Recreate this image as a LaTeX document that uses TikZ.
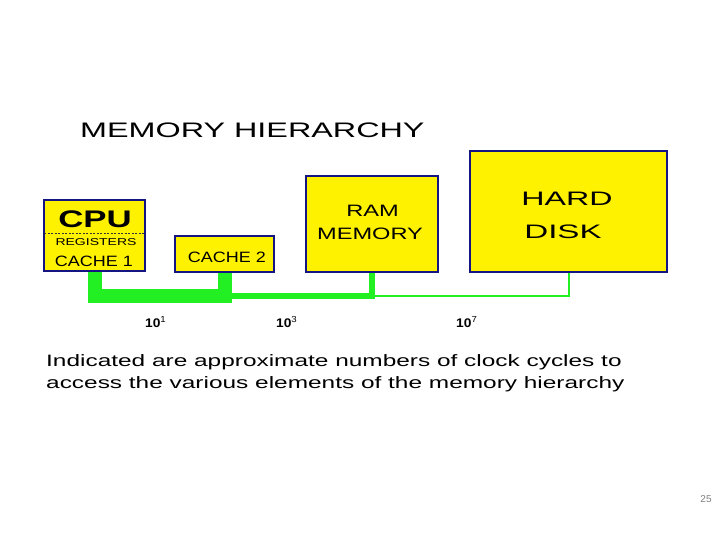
\documentclass[tikz,border=0pt]{standalone}
\usepackage{fontspec}
\setmainfont{Liberation Sans}
\setsansfont{Liberation Sans}
\usetikzlibrary{calc}

\definecolor{unitblue}{RGB}{20,20,130}
\definecolor{busgreen}{RGB}{35,240,35}
\newcommand{\widen}[2]{\scalebox{#1}[1]{#2}}

\begin{document}
\begin{tikzpicture}[
    x=1pt, y=-1pt,
    line join=miter,
    font=\sffamily,
    unit/.style={draw=unitblue, fill=yellow, line width=2pt, inner sep=0pt, outer sep=0pt},
    lbl/.style={inner sep=0pt, anchor=base}
]

  % ==================== PARAMETERS ====================
  \def\busy{296}    % height of the bus
  \def\wthick{14pt} % bus CPU - cache 2
  \def\wmid{6pt}    % bus cache 2 - RAM
  \def\wthin{2pt}   % bus RAM - disk

  \useasboundingbox (0,0) rectangle (720,540);

  % ==================== 1. TITLE ====================
  \node[lbl, anchor=base west, font=\fontsize{21}{21}\selectfont] (title) at (80,138)
    {\widen{1.54}{MEMORY HIERARCHY}};

  % ==================== 2. UNITS ====================
  \node[unit, minimum width=101pt, minimum height=71pt]  (cpu)    at (94.5,235.5) {};
  \node[unit, minimum width=99pt,  minimum height=36pt]  (cache2) at (224.5,254) {};
  \node[unit, minimum width=132pt, minimum height=96pt]  (ram)    at (372,224) {};
  \node[unit, minimum width=197pt, minimum height=121pt] (disk)   at (568.5,211.5) {};

  % CPU with registers and cache 1
  \draw[black!80, dashed, thin, dash pattern=on 2pt off 1.5pt] (cpu.west |- 0,233) -- (cpu.east |- 0,233);
  \node[lbl, font=\fontsize{24}{24}\selectfont\bfseries] (cpulbl) at (95,227) {\widen{1.45}{CPU}};
  \node[lbl, font=\fontsize{10}{10}\selectfont] (reglbl) at (96,245) {\widen{1.4}{REGISTERS}};
  \node[lbl, font=\fontsize{15}{15}\selectfont] (c1lbl) at (94,266) {\widen{1.2}{CACHE 1}};

  \node[lbl, font=\fontsize{15}{15}\selectfont] (c2lbl) at (227,262) {\widen{1.2}{CACHE 2}};

  \node[lbl, font=\fontsize{16.5}{16.5}\selectfont] (ramlbl) at (372.5,216) {\widen{1.43}{RAM}};
  \node[lbl, font=\fontsize{16.5}{16.5}\selectfont] (memlbl) at (370,240) {\widen{1.43}{MEMORY}};

  \node[lbl, font=\fontsize{19.5}{19.5}\selectfont] (hardlbl) at (567,206) {\widen{1.65}{HARD}};
  \node[lbl, font=\fontsize{19.5}{19.5}\selectfont] (disklbl) at (563,239) {\widen{1.7}{DISK}};

  % ==================== 3. BUS ====================
  \coordinate (bus) at (0,\busy);
  \draw[busgreen, line width=\wthick] ([yshift=-1pt]cpu.south) -- (cpu.south |- bus)
    -- (cache2.south |- bus) -- ([yshift=-1pt]cache2.south);
  \draw[busgreen, line width=\wmid] (cache2.south |- bus) -- (ram.south |- bus)
    -- ([yshift=-1pt]ram.south);
  \draw[busgreen, line width=\wthin] (ram.south |- bus) -| ([yshift=-1pt]disk.south);

  % Clock cycles
  \foreach \xpos/\ex [count=\i] in {145/1, 276/3, 456/7}{
    \node[lbl, anchor=base west, font=\fontsize{12.5}{12.5}\selectfont\bfseries] (lat\i) at (\xpos,327)
      {\widen{1.1}{10\textsuperscript{\mdseries\ex}}};
  }

  % ==================== 4. NOTE ====================
  \node[lbl, anchor=base west, font=\fontsize{16.5}{16.5}\selectfont] (note1) at (46,366)
    {\widen{1.48}{Indicated are approximate numbers of clock cycles to}};
  \node[lbl, anchor=base west, font=\fontsize{16.5}{16.5}\selectfont] (note2) at (46,388)
    {\widen{1.48}{access the various elements of the memory hierarchy}};

  \node[lbl, gray, font=\fontsize{10}{10}\selectfont] (pagenum) at (706,502) {25};

\end{tikzpicture}
\end{document}
